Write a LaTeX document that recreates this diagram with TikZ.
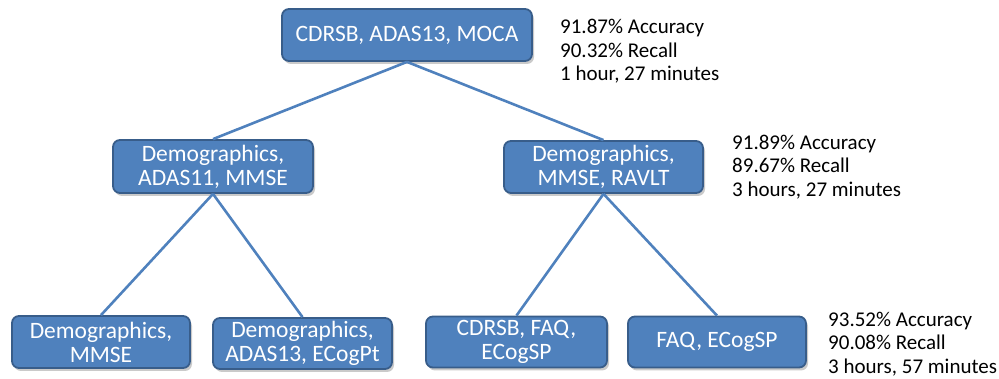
\documentclass[tikz,border=0pt]{standalone}
\usepackage{fontspec}
\setmainfont{Carlito}
\definecolor{boxblue}{RGB}{79, 129, 189}
\definecolor{edgeblue}{RGB}{56, 93, 138}
\definecolor{lineblue}{RGB}{79, 129, 189}
\usetikzlibrary{shadows, positioning}
\tikzset{
  featbox/.style={draw=edgeblue, line width=1.8pt, fill=boxblue, rounded corners=7pt,
    text=white, align=center, font=\fontsize{23.5}{24}\selectfont, inner sep=0pt,
    drop shadow={shadow xshift=2pt, shadow yshift=-3pt, opacity=0.35, fill=black!60}},
  stats/.style={anchor=west, align=left, inner sep=0pt, font=\fontsize{21}{23.5}\selectfont},
  link/.style={draw=lineblue, line width=2.6pt}
}

\begin{document}
\begin{tikzpicture}[x=1pt, y=-1pt]
  \useasboundingbox (0,0) rectangle (999,379);

  % Top level
  \node[featbox, minimum width=250pt, minimum height=52pt] (root) at (407, 35) {CDRSB, ADAS13, MOCA};
  \node[stats] (rootstats) at (560, 51.5) {91.87\% Accuracy\\90.32\% Recall\\1 hour, 27 minutes};

  % Second level
  \node[featbox, minimum width=200pt, minimum height=53pt] (midl) at (213, 166.5) {Demographics,\\ADAS11, MMSE};
  \node[featbox, minimum width=199pt, minimum height=52pt] (midr) at (603.5, 167) {Demographics,\\MMSE, RAVLT};
  \node[stats] (midrstats) at (732, 167) {91.89\% Accuracy\\89.67\% Recall\\3 hours, 27 minutes};

  % Third level
  \node[featbox, minimum width=178pt, minimum height=52pt] (leafa) at (101, 342) {Demographics,\\MMSE};
  \node[featbox, minimum width=179pt, minimum height=51pt] (leafb) at (302.5, 343.5) {Demographics,\\ADAS13, ECogPt};
  \node[featbox, minimum width=181pt, minimum height=51pt] (leafc) at (516.5, 342) {CDRSB, FAQ,\\ECogSP};
  \node[featbox, minimum width=178pt, minimum height=51pt] (leafd) at (717, 342) {FAQ, ECogSP};
  \node[stats] (leafdstats) at (828, 344) {93.52\% Accuracy\\90.08\% Recall\\3 hours, 57 minutes};

  % Connectors
  \draw[link] (root.south) -- (midl.north);
  \draw[link] (root.south) -- (midr.north);
  \draw[link] (midl.south) -- (leafa.north);
  \draw[link] (midl.south) -- (leafb.north);
  \draw[link] (midr.south) -- (leafc.north);
  \draw[link] (midr.south) -- (leafd.north);
\end{tikzpicture}
\end{document}
